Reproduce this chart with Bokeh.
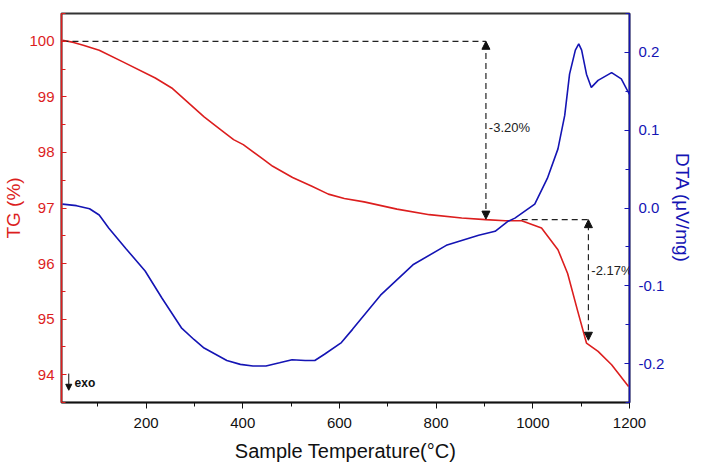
from bokeh.plotting import figure
from bokeh.models import (Range1d, LinearAxis, FixedTicker, Arrow, NormalHead, Label)
from bokeh.embed import file_html
from bokeh.resources import INLINE

# ---- data ----
tg_temp = [27, 50, 70, 103, 152, 219, 253, 320, 354, 381, 401, 442, 462, 503, 543, 577,
           610, 651, 719, 786, 853, 902, 943, 977, 1018, 1052, 1072, 1093, 1111, 1135,
           1163, 1198]
tg_val = [100.02, 99.98, 99.93, 99.84, 99.63, 99.34, 99.16, 98.64, 98.41, 98.23, 98.14,
          97.88, 97.75, 97.55, 97.39, 97.25, 97.17, 97.11, 96.98, 96.88, 96.82, 96.79,
          96.77, 96.77, 96.64, 96.25, 95.82, 95.14, 94.57, 94.42, 94.18, 93.79]

dta_temp = [27, 56, 83, 103, 123, 158, 198, 233, 273, 299, 320, 367, 395, 421, 448, 476,
            502, 529, 549, 569, 604, 627, 685, 752, 821, 888, 922, 949, 963, 1004, 1030,
            1052, 1066, 1076, 1088, 1095, 1101, 1111, 1121, 1135, 1163, 1183, 1200]
dta_val = [0.005, 0.003, -0.001, -0.009, -0.026, -0.052, -0.081, -0.116, -0.154, -0.169,
           -0.180, -0.196, -0.201, -0.203, -0.203, -0.199, -0.195, -0.196, -0.196, -0.188,
           -0.173, -0.156, -0.112, -0.073, -0.048, -0.035, -0.030, -0.017, -0.013, 0.005,
           0.038, 0.076, 0.119, 0.172, 0.203, 0.211, 0.203, 0.172, 0.155, 0.164, 0.174,
           0.166, 0.146]

x_ticks = [200, 400, 600, 800, 1000, 1200]
x_minor = [100, 300, 500, 700, 900, 1100]
tg_ticks = [94, 95, 96, 97, 98, 99, 100]
tg_minor = [93.5, 94.5, 95.5, 96.5, 97.5, 98.5, 99.5, 100.5]
dta_ticks = [-0.2, -0.1, 0.0, 0.1, 0.2]
dta_minor = [-0.25, -0.15, -0.05, 0.05, 0.15, 0.25]

# annotation values
start_tg = 100.0
step1_tg = 96.80
step1_temp = 903
step2_tg = 96.79
step2_end_tg = 94.62
step2_temp = 1115
step2_start_temp = 977
loss1_label = "-3.20%"
loss2_label = "-2.17%"

RED = "#dc1e1e"
BLUE = "#1414b4"
FONT = "Liberation Sans"

p = figure(frame_width=568, frame_height=389, output_backend="svg", toolbar_location=None,
           x_range=Range1d(25, 1200), y_range=Range1d(93.5, 100.5),
           min_border_top=13, min_border_left=0, min_border_right=0, min_border_bottom=0)
p.extra_y_ranges = {"dta": Range1d(-0.25, 0.25)}
p.xgrid.visible = False
p.ygrid.visible = False
p.outline_line_color = "#333333"
p.outline_line_width = 2
p.background_fill_color = "white"
p.border_fill_color = "white"

# x axis
xa = p.xaxis[0]
xa.ticker = FixedTicker(ticks=x_ticks, minor_ticks=x_minor)
xa.axis_label = "Sample Temperature(°C)"
xa.axis_label_text_font = FONT
xa.axis_label_text_font_size = "20px"
xa.axis_label_text_font_style = "normal"
xa.axis_label_text_color = "#111111"
xa.axis_label_standoff = 9
xa.major_label_text_font = FONT
xa.major_label_text_font_size = "15px"
xa.major_label_text_color = "#111111"
xa.major_label_standoff = 9
xa.axis_line_color = "#111111"
xa.axis_line_width = 1.5
xa.major_tick_line_color = "#111111"
xa.minor_tick_line_color = "#111111"
xa.major_tick_in = 0
xa.major_tick_out = 6
xa.minor_tick_in = 0
xa.minor_tick_out = 4

# left axis (TG)
ya = p.yaxis[0]
ya.ticker = FixedTicker(ticks=tg_ticks, minor_ticks=tg_minor)
ya.axis_label = "TG (%)"
ya.axis_label_text_font = FONT
ya.axis_label_text_font_size = "19px"
ya.axis_label_text_font_style = "normal"
ya.axis_label_text_color = RED
ya.axis_label_standoff = 2
ya.major_label_text_font = FONT
ya.major_label_text_font_size = "15px"
ya.major_label_text_color = RED
ya.major_label_standoff = 7
ya.axis_line_color = RED
ya.axis_line_width = 1.5
ya.major_tick_line_color = RED
ya.minor_tick_line_color = RED
ya.major_tick_in = 5
ya.major_tick_out = 0
ya.minor_tick_in = 4
ya.minor_tick_out = 0

# right axis (DTA)
ra = LinearAxis(y_range_name="dta")
ra.ticker = FixedTicker(ticks=dta_ticks, minor_ticks=dta_minor)
ra.axis_label = "DTA (μV/mg)"
ra.axis_label_text_font = FONT
ra.axis_label_text_font_size = "19px"
ra.axis_label_text_font_style = "normal"
ra.axis_label_text_color = BLUE
ra.axis_label_standoff = 5
ra.major_label_text_font = FONT
ra.major_label_text_font_size = "15px"
ra.major_label_text_color = BLUE
ra.major_label_standoff = 9
ra.major_label_overrides = {-0.2: "-0.2", -0.1: "-0.1", 0.0: "0.0", 0.1: "0.1", 0.2: "0.2"}
ra.axis_line_color = BLUE
ra.axis_line_width = 1.5
ra.major_tick_line_color = BLUE
ra.minor_tick_line_color = BLUE
ra.major_tick_in = 5
ra.major_tick_out = 0
ra.minor_tick_in = 4
ra.minor_tick_out = 0
p.add_layout(ra, "right")

# curves
p.line(tg_temp, tg_val, line_color=RED, line_width=1.6)
p.line(dta_temp, dta_val, line_color=BLUE, line_width=1.6, y_range_name="dta")

# annotations
DASH = "6 4"
p.line([tg_temp[0], step1_temp], [start_tg, start_tg], line_color="#222222",
       line_width=1.2, line_dash=DASH)
p.line([step2_start_temp, step2_temp], [step2_tg, step2_tg], line_color="#222222",
       line_width=1.2, line_dash=DASH)
p.add_layout(Arrow(x_start=step1_temp, y_start=step1_tg, x_end=step1_temp, y_end=start_tg,
                   line_color="#222222", line_width=1.2, line_dash=DASH,
                   start=NormalHead(size=8, fill_color="#111111", line_color="#111111"),
                   end=NormalHead(size=8, fill_color="#111111", line_color="#111111")))
p.add_layout(Arrow(x_start=step2_temp, y_start=step2_end_tg, x_end=step2_temp, y_end=step2_tg,
                   line_color="#222222", line_width=1.2, line_dash=DASH,
                   start=NormalHead(size=8, fill_color="#111111", line_color="#111111"),
                   end=NormalHead(size=8, fill_color="#111111", line_color="#111111")))
p.add_layout(Label(x=step1_temp + 6, y=98.45, text=loss1_label, text_font=FONT,
                   text_font_size="13px", text_color="#222222", text_baseline="middle"))
p.add_layout(Label(x=step2_temp + 6, y=95.87, text=loss2_label, text_font=FONT,
                   text_font_size="13px", text_color="#222222", text_baseline="middle"))

# exo marker
p.add_layout(Arrow(x_start=40, y_start=94.02, x_end=40, y_end=93.72,
                   line_color="#111111", line_width=1,
                   end=NormalHead(size=6, fill_color="#111111", line_color="#111111")))
p.add_layout(Label(x=52, y=93.85, text="exo", text_font=FONT, text_font_size="12px",
                   text_font_style="bold", text_color="#111111", text_baseline="middle"))

open("out.html", "w").write(file_html(p, INLINE))
